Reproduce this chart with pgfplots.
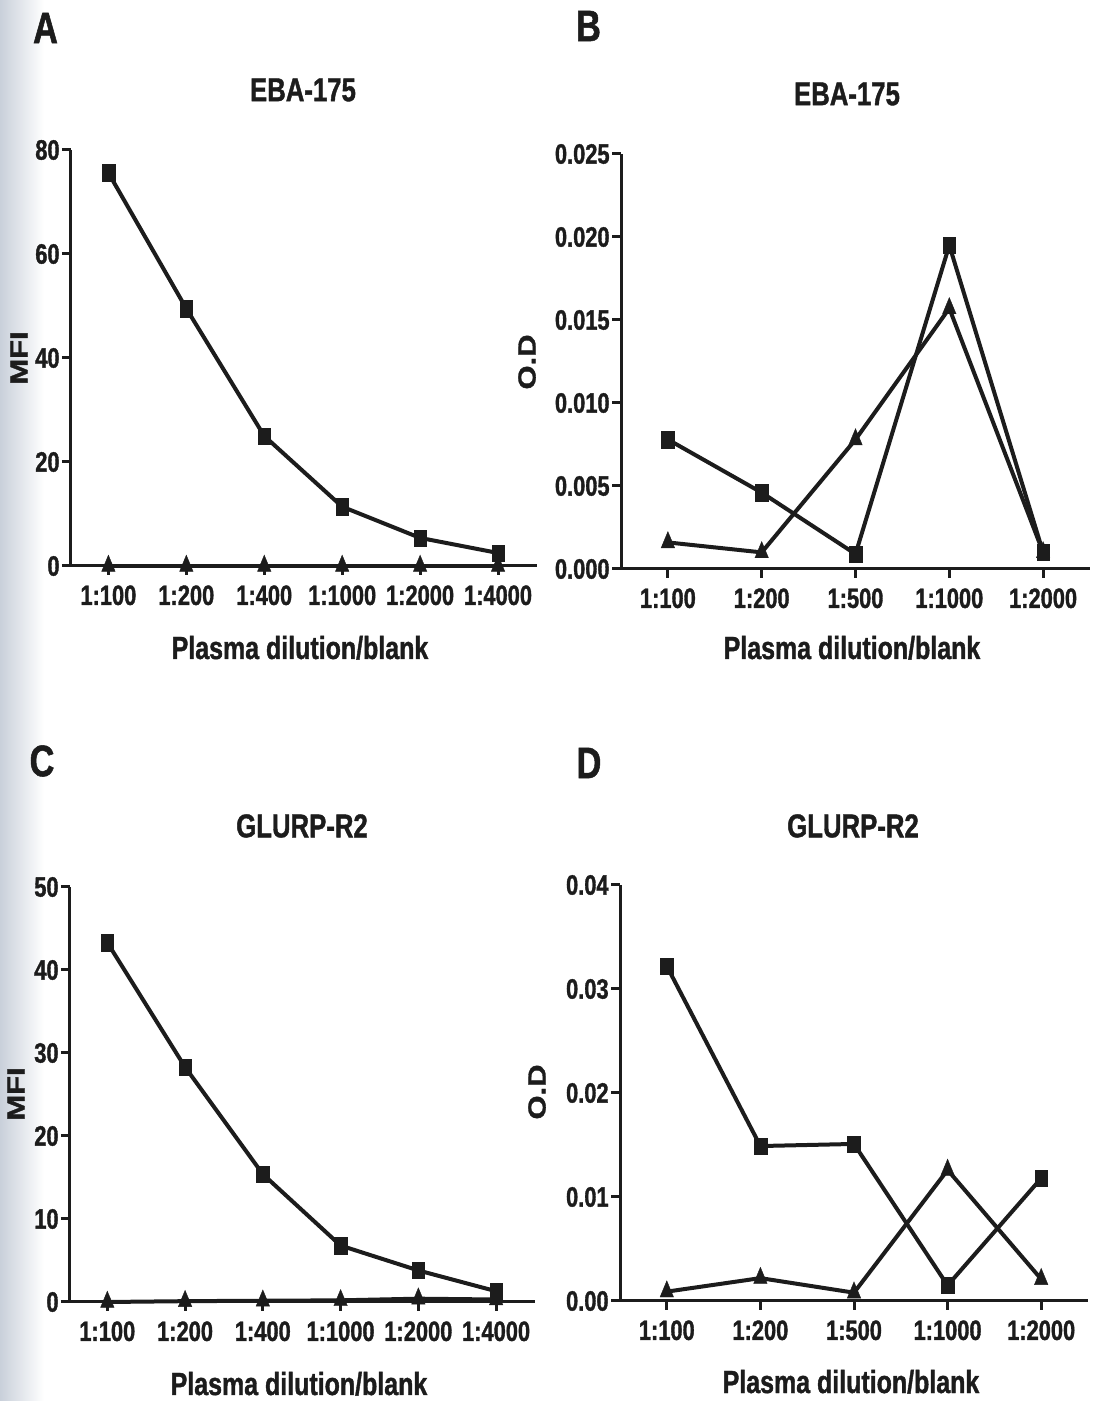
\documentclass[border=0pt]{standalone}
\usepackage{fontspec}
\setmainfont{Liberation Sans}[FakeStretch=0.78, BoldFeatures={FakeBold=1.2}]
\newfontfamily\rotfont{Liberation Sans}[BoldFeatures={FakeBold=1.2}]
\usepackage{graphicx}
\usepackage{pgfplots}
\pgfplotsset{compat=1.18}
\definecolor{ink}{HTML}{1C1C1C}
\definecolor{edge}{HTML}{C9D0DA}

\pgfplotsset{
  panel/.style={
    scale only axis,
    axis x line*=bottom, axis y line*=left,
    axis line style={ink, line width=1.5pt, -},
    every tick/.style={ink, line width=1.5pt},
    major tick length=4.5pt,
    tick align=outside,
    ticklabel style={font=\bfseries\fontsize{14}{14}\selectfont, text=ink},
    /pgf/number format/assume math mode=true,
    scaled y ticks=false,
    yticklabel style={inner sep=1pt},
    xticklabel style={inner sep=2pt, yshift=-3pt},
    minor tick num=0,
    clip=false,
  },
  sq/.style={ink, line width=2pt, mark=square*, mark size=4.1pt, mark options={solid, fill=ink, draw=ink, line width=0.2pt, xscale=0.77}},
  tri/.style={ink, line width=2pt, mark=triangle*, mark size=5.4pt, mark options={solid, fill=ink, draw=ink, line width=0.2pt, xscale=0.72}},
}

\begin{document}
\begin{tikzpicture}
\path[use as bounding box] (0,0) rectangle (546pt,700.5pt);
\shade[left color=edge, right color=white] (0,0) rectangle (22pt,700.5pt);

% ---------- Panel A ----------
\begin{axis}[panel, at={(35.5pt,417.5pt)}, anchor=south west,
  width=233pt, height=208pt,
  xmin=-0.48, xmax=5.5, ymin=0, ymax=80,
  xtick={0,...,5}, xticklabels={1:100,1:200,1:400,1:1000,1:2000,1:4000},
  ytick={0,20,40,60,80}]
\addplot[tri] coordinates {(0,0) (1,0) (2,0) (3,0) (4,0) (5,0)};
\addplot[sq] coordinates {(0,75.6) (1,49.5) (2,25.0) (3,11.4) (4,5.4) (5,2.5)};
\end{axis}

% ---------- Panel B ----------
\begin{axis}[panel, at={(310.5pt,416pt)}, anchor=south west,
  width=234.5pt, height=207.5pt,
  xmin=-0.5, xmax=4.5, ymin=0, ymax=0.025,
  xtick={0,...,4}, xticklabels={1:100,1:200,1:500,1:1000,1:2000},
  ytick={0,0.005,0.01,0.015,0.02,0.025},
  yticklabels={0.000,0.005,0.010,0.015,0.020,0.025}]
\addplot[tri] coordinates {(0,0.0016) (1,0.0010) (2,0.0078) (3,0.0157) (4,0.0010)};
\addplot[sq] coordinates {(0,0.0078) (1,0.0046) (2,0.0009) (3,0.0195) (4,0.0010)};
\end{axis}

% ---------- Panel C ----------
\begin{axis}[panel, at={(35pt,49.5pt)}, anchor=south west,
  width=232.5pt, height=207.5pt,
  xmin=-0.48, xmax=5.5, ymin=0, ymax=50,
  xtick={0,...,5}, xticklabels={1:100,1:200,1:400,1:1000,1:2000,1:4000},
  ytick={0,10,20,30,40,50}]
\addplot[tri] coordinates {(0,0) (1,0.1) (2,0.15) (3,0.2) (4,0.4) (5,0.3)};
\addplot[sq] coordinates {(0,43.3) (1,28.3) (2,15.4) (3,6.8) (4,3.8) (5,1.3)};
\end{axis}

% ---------- Panel D ----------
\begin{axis}[panel, at={(310pt,50pt)}, anchor=south west,
  width=234pt, height=208pt,
  xmin=-0.5, xmax=4.5, ymin=0, ymax=0.04,
  xtick={0,...,4}, xticklabels={1:100,1:200,1:500,1:1000,1:2000},
  ytick={0,0.01,0.02,0.03,0.04},
  yticklabels={0.00,0.01,0.02,0.03,0.04}]
\addplot[tri] coordinates {(0,0.0009) (1,0.0022) (2,0.0008) (3,0.0126) (4,0.0021)};
\addplot[sq] coordinates {(0,0.0322) (1,0.0149) (2,0.0151) (3,0.0015) (4,0.0118)};
\end{axis}

% ---------- Texts ----------
\tikzset{ttl/.style={text=ink, inner sep=0pt, font=\bfseries\fontsize{16.5}{16.5}\selectfont},
         xl/.style={text=ink, inner sep=0pt, anchor=base, font=\bfseries\fontsize{16}{16}\selectfont},
         let/.style={text=ink, inner sep=0pt, font=\bfseries\fontsize{22}{22}\selectfont},
         yl/.style={text=ink, inner sep=0pt, font=\rotfont\bfseries\fontsize{15.5}{15.5}\selectfont}}

\node[let] at (22.75pt,686.5pt) {A};
\node[let] at (294.25pt,687.5pt) {B};
\node[let] at (21pt,320pt) {C};
\node[let] at (294.5pt,319pt) {D};

\node[ttl] at (151.5pt,655.5pt) {EBA-175};
\node[ttl] at (423.5pt,653.5pt) {EBA-175};
\node[ttl] at (151pt,287.5pt) {GLURP-R2};
\node[ttl] at (426.5pt,287.5pt) {GLURP-R2};

\node[xl] at (150pt,371pt) {Plasma dilution/blank};
\node[xl] at (426pt,371pt) {Plasma dilution/blank};
\node[xl] at (149.5pt,3pt) {Plasma dilution/blank};
\node[xl] at (425.5pt,4pt) {Plasma dilution/blank};

\node[yl] at (9.5pt,521.5pt) {\rotatebox{90}{\scalebox{1}[0.8]{MFI}}};
\node[yl] at (263.5pt,519.5pt) {\rotatebox{90}{\scalebox{1}[0.8]{O.D}}};
\node[yl] at (8pt,153.5pt) {\rotatebox{90}{\scalebox{1}[0.8]{MFI}}};
\node[yl] at (268.5pt,154.5pt) {\rotatebox{90}{\scalebox{1}[0.8]{O.D}}};
\end{tikzpicture}
\end{document}
